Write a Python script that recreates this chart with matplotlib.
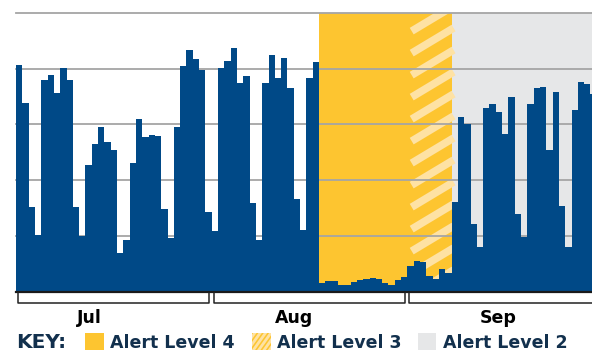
import numpy as np
import pandas as pd
import matplotlib
matplotlib.use('Agg')
import matplotlib.pyplot as plt
from matplotlib.patches import Rectangle
from matplotlib.lines import Line2D

# daily values Jul 1 - Sep 30 (grid step = 1000)
days = pd.date_range('2021-07-01', '2021-09-30', freq='D')
values = [4060, 3377, 1527, 1024, 3790, 3880, 3562, 4018, 3790, 1527,
          1011, 2281, 2641, 2946, 2694, 2551, 706, 934, 2317, 3090,
          2766, 2802, 2784, 1491, 970, 2946, 4042, 4329, 4167, 3970,
          1437,
          1096, 4018, 4131, 4365, 3742, 3862, 1599, 934, 3742, 4245,
          3826, 4185, 3646, 1671, 1101, 3826, 4119, 162, 198, 198,
          126, 126, 180, 216, 234, 252, 234, 162, 126, 216,
          269,
          467, 557, 539, 287, 234, 413, 341, 1617, 3126, 3000,
          1221, 808, 3287, 3359, 3215, 2820, 3485, 1401, 988, 3359,
          3646, 3664, 2551, 3575, 1545, 808, 3251, 3754, 3718, 3539]
months = ['Jul', 'Aug', 'Sep']
month_starts = ['2021-07-01', '2021-08-01', '2021-09-01']
month_ends = ['2021-07-31', '2021-08-31', '2021-09-30']
# alert level periods (first day, day after last)
levels = ['Alert Level 4', 'Alert Level 3', 'Alert Level 2']
level_starts = ['2021-08-18', '2021-09-02', '2021-09-08']
level_ends = ['2021-09-02', '2021-09-08', '2021-10-01']
gridvals = [1000, 2000, 3000, 4000, 5000]

blue = '#004987'
yellow = '#fdc530'
light = '#fee2a4'
grey = '#e6e7e8'
navy = '#12304d'

def idx(d):
    return (pd.Timestamp(d) - days[0]).days

W, H = 592, 350
fig = plt.figure(figsize=(W / 100, H / 100), dpi=100)
px = 6.3125
ax = fig.add_axes([16 / W, 58 / H, 92 * px / W, 279.3 / H])
ax.set_xlim(0, 92)
ax.set_ylim(0, 5000)
ax.axis('off')

x = np.arange(len(values))
ax.bar(x, values, width=1.0, align='edge', color=blue, linewidth=0, zorder=3)

spans = []
for lv, s, e in zip(levels, level_starts, level_ends):
    c = grey if lv.endswith('2') else yellow
    spans.append(ax.axvspan(idx(s), idx(e), color=c, linewidth=0, zorder=0))

def stripes(patch, x0, x1, y0, y1, period, slope, lw, z):
    # diagonal light stripes, drawn in pixel coords and clipped to the patch
    k = y0 - slope * (x1 - x0) - period
    while k < y1 + period:
        ln = Line2D([x0 / 100, x1 / 100], [k / 100, (k + slope * (x1 - x0)) / 100],
                    transform=fig.dpi_scale_trans, color=light, lw=lw,
                    solid_capstyle='butt', zorder=z)
        ln.set_clip_path(patch)
        fig.add_artist(ln) if patch.axes is None else ax.add_artist(ln)
        k += period

h0 = 16 + idx(level_starts[1]) * px
h1 = 16 + idx(level_ends[1]) * px
stripes(spans[1], h0 - 2, h1 + 2, 58, 340, 22, 0.6, 5.5, 0.5)

for g in gridvals:
    ax.axhline(g, color='#a5a5a5', lw=1.3, zorder=1, clip_on=False)
ax.axhline(0, color='#1a1a1a', lw=1.6, zorder=4, clip_on=False)

# month brackets under the axis
tr = matplotlib.transforms.blended_transform_factory(ax.transData, ax.transAxes)
by0, by1 = -1 / 279.3, -11 / 279.3
for m, s, e in zip(months, month_starts, month_ends):
    a, b = idx(s) + 0.3, idx(e) + 1 - 0.4
    ax.plot([a, a, b, b], [by0, by1, by1, by0], transform=tr, color='#222222',
            lw=1.1, clip_on=False, zorder=4)
label_x = [11.7, 44.0, 76.4]
for m, lx in zip(months, label_x):
    ax.text(lx, -31 / 279.3, m, transform=tr, ha='center', va='baseline',
            fontsize=12.5, fontweight='bold', color='black', family='DejaVu Sans')

# key
fig.text(16.5 / W, 2.5 / H, 'KEY:', fontsize=14.5, fontweight='heavy', color=navy,
         va='baseline', ha='left', family='DejaVu Sans')
key_x = [85, 252, 418]
key_c = [yellow, yellow, grey]
for lv, kx, kc in zip(levels, key_x, key_c):
    r = Rectangle((kx / W, -2 / H), 18.5 / W, 19 / H, transform=fig.transFigure,
                  facecolor=kc, edgecolor='none')
    fig.add_artist(r)
    if lv.endswith('3'):
        stripes(r, kx - 2, kx + 21, -10, 20, 7.5, 1.4, 2.0, 3)
    fig.text((kx + 25) / W, 2.5 / H, lv, fontsize=12.5, fontweight='bold',
             color=navy, va='baseline', ha='left', family='DejaVu Sans')

fig.savefig('out.png', dpi=100, facecolor='white')
